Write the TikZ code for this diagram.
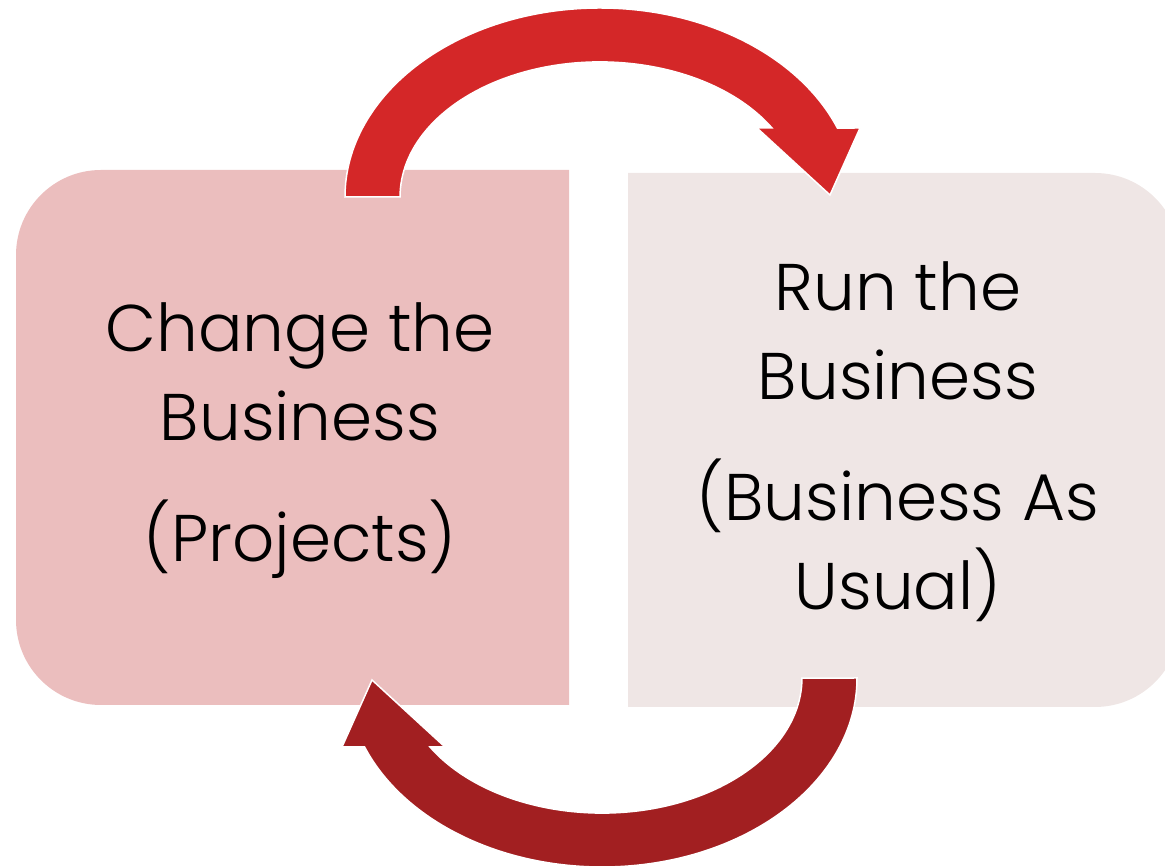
\documentclass[tikz,border=0pt]{standalone}
\usepackage{fontspec}
\IfFontExistsTF{Poppins Light}{\setmainfont{Poppins Light}}{\setmainfont{Poppins}}
\definecolor{leftbox}{HTML}{EBBEBE}
\definecolor{rightbox}{HTML}{EFE6E5}
\definecolor{toparrow}{HTML}{D42728}
\definecolor{botarrow}{HTML}{A21F21}
\tikzset{
  boxtext/.style={align=center, inner sep=0pt, text=black, font=\fontsize{66}{89}\selectfont},
  bigarrow/.style={draw=white, line width=1.5pt, line join=miter},
}
\begin{document}
\begin{tikzpicture}[x=1pt,y=1pt]
\useasboundingbox (0,0) rectangle (1165,867);
\clip (0,0) rectangle (1165,867);
% left box
\fill[leftbox] (569,697) -- (101,697) arc[start angle=90,end angle=180,radius=85]
  -- (16,247) arc[start angle=180,end angle=270,radius=85] -- (569,162) -- cycle;
% right box
\fill[rightbox] (628,694) -- (1095,694) arc[start angle=90,end angle=0,radius=85]
  -- (1180,245) arc[start angle=0,end angle=-90,radius=85] -- (628,160) -- cycle;
\node[boxtext] (change) at (300,426) {Change the\\Business\\[32pt](Projects)};
\node[boxtext] (run) at (898,425) {Run the\\Business\\[32pt](Business As\\Usual)};
% top arrow
\filldraw[bigarrow, fill=toparrow] (345,670)
  arc[start angle=180,end angle=21.4,x radius=255,y radius=189]
  -- (860,739) -- (830,672) -- (757,739) -- (772,739)
  arc[start angle=30.7,end angle=180,x radius=200,y radius=135] -- cycle;
% bottom arrow
\begin{scope}[rotate around={180:(601,429.5)}]
\filldraw[bigarrow, fill=botarrow] (345,670)
  arc[start angle=180,end angle=21.4,x radius=255,y radius=189]
  -- (860,739) -- (830,672) -- (757,739) -- (772,739)
  arc[start angle=30.7,end angle=180,x radius=200,y radius=135] -- cycle;
\end{scope}
\end{tikzpicture}
\end{document}
